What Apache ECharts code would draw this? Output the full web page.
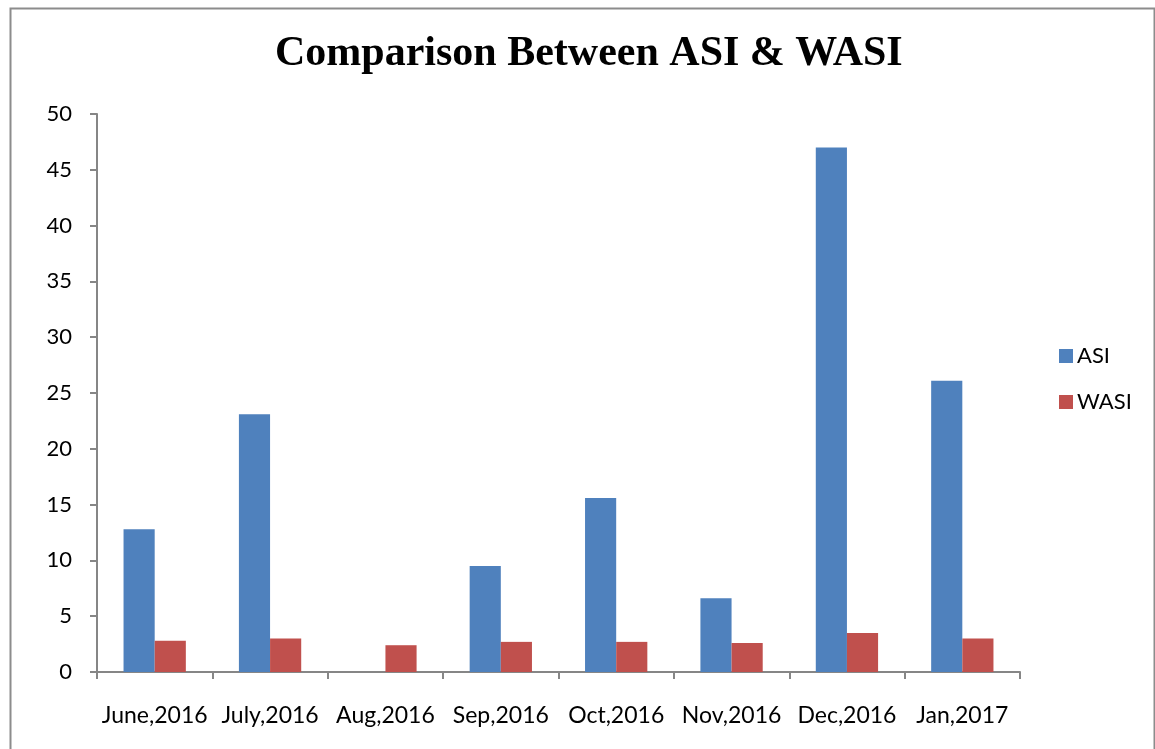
<!DOCTYPE html>
<html>
<head>
<meta charset="utf-8">
<script src="https://cdn.jsdelivr.net/npm/echarts@6/dist/echarts.min.js"></script>
<style>
html,body{margin:0;padding:0;background:#fff;}
#chart{width:1155px;height:749px;}
</style>
</head>
<body>
<div id="chart"></div>
<script>
const categories = ['June,2016','July,2016','Aug,2016','Sep,2016','Oct,2016','Nov,2016','Dec,2016','Jan,2017'];
const asi = [12.8, 23.1, 0, 9.5, 15.6, 6.6, 47.0, 26.1];
const wasi = [2.8, 3.0, 2.4, 2.7, 2.7, 2.6, 3.5, 3.0];
const seriesNames = ['ASI', 'WASI'];
const titleText = 'Comparison Between ASI & WASI';

const labelFont = 'Lato, "Liberation Sans", sans-serif';
const chart = echarts.init(document.getElementById('chart'), null, {renderer:'canvas'});
chart.setOption({
  animation:false,
  backgroundColor:'#fff',
  graphic:[{
    type:'rect', left:8, top:6, shape:{width:1144, height:760},
    style:{fill:'none', stroke:'#8c8c8c', lineWidth:2}, silent:true
  }],
  title:{
    text:titleText, left:270, top:28,
    textStyle:{fontFamily:'"Liberation Serif", "Times New Roman", serif', fontWeight:'bold', fontSize:42, color:'#000'}
  },
  legend:{
    orient:'vertical', left:1054, top:340, itemGap:24,
    itemWidth:14, itemHeight:14, icon:'rect',
    textStyle:{fontFamily:labelFont, fontSize:22, color:'#000', padding:[0,0,0,-1]},
    data:seriesNames
  },
  grid:{left:97, right:135, top:114, bottom:77, containLabel:false},
  xAxis:{
    type:'category', data:categories,
    axisLine:{lineStyle:{color:'#868686', width:2}},
    axisTick:{show:true, length:7, lineStyle:{color:'#868686', width:2}, alignWithLabel:false},
    axisLabel:{fontFamily:labelFont, fontSize:23, color:'#000', margin:32, interval:0}
  },
  yAxis:{
    type:'value', min:0, max:50, interval:5,
    axisLine:{show:true, lineStyle:{color:'#868686', width:2}},
    axisTick:{show:true, length:7, lineStyle:{color:'#868686', width:2}},
    splitLine:{show:false},
    axisLabel:{fontFamily:labelFont, fontSize:22, color:'#000', margin:25}
  },
  series:[
    {name:seriesNames[0], type:'bar', data:asi, barGap:'0%', barCategoryGap:'46%',
     itemStyle:{color:'#4f81bd'}},
    {name:seriesNames[1], type:'bar', data:wasi, barGap:'0%', barCategoryGap:'46%',
     itemStyle:{color:'#c0504d'}}
  ]
});
</script>
</body>
</html>
